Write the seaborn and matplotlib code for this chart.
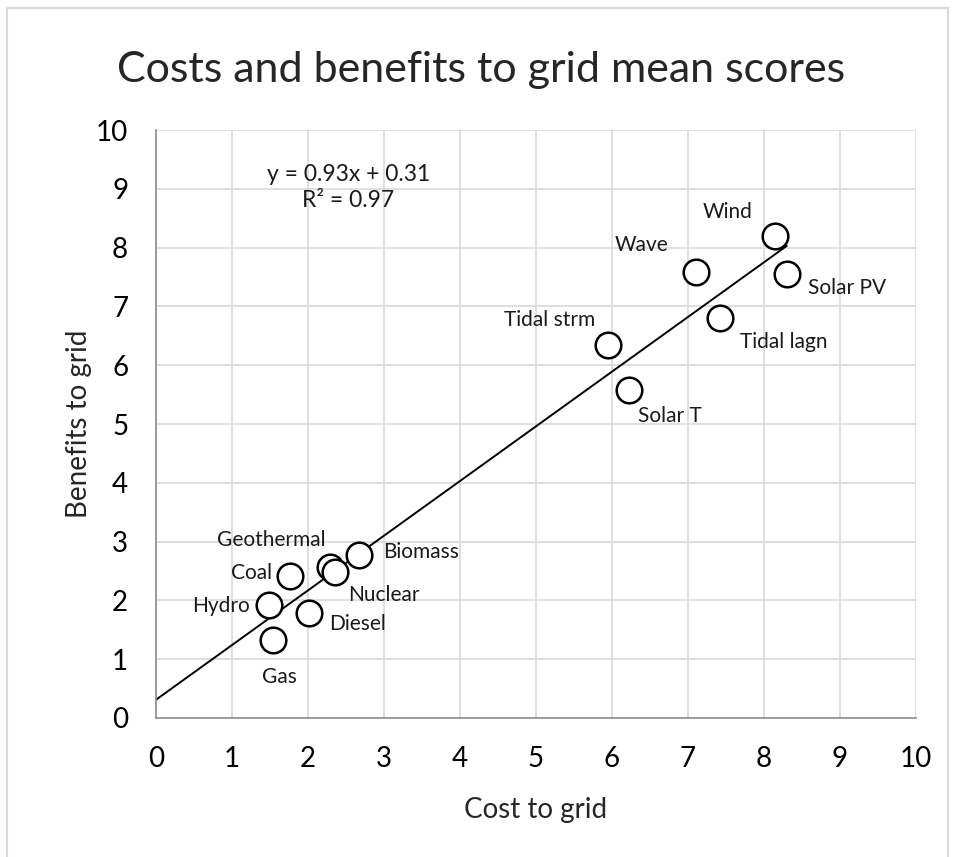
import numpy as np
import pandas as pd
import matplotlib
matplotlib.use('Agg')
import matplotlib.pyplot as plt
from matplotlib.patches import Rectangle
import seaborn as sns

# data
sources = ['Wind', 'Wave', 'Solar PV', 'Tidal lagn', 'Tidal strm', 'Solar T',
           'Biomass', 'Geothermal', 'Nuclear', 'Coal', 'Hydro', 'Diesel', 'Gas']
cost = [8.14, 7.11, 8.30, 7.42, 5.95, 6.22, 2.67, 2.29, 2.35, 1.76, 1.49, 2.01, 1.54]
benefit = [8.20, 7.59, 7.55, 6.80, 6.34, 5.58, 2.77, 2.57, 2.48, 2.41, 1.92, 1.79, 1.33]

# label offsets in pixels (dx, dy, ha)
label_pos = {
    'Wind': (-47, 24, 'center'), 'Wave': (-55, 27, 'center'),
    'Solar PV': (21, -14, 'left'), 'Tidal lagn': (20, -24, 'left'),
    'Tidal strm': (-13, 25, 'right'), 'Solar T': (9, -26, 'left'),
    'Biomass': (24, 3, 'left'), 'Geothermal': (-4, 27, 'right'),
    'Nuclear': (14, -23, 'left'), 'Coal': (-18, 3, 'right'),
    'Hydro': (-19, -1, 'right'), 'Diesel': (20, -11, 'left'),
    'Gas': (6, -37, 'center'),
}

slope, intercept, r2 = 0.93, 0.31, 0.97
fit_range = [0, 8.3]

df = pd.DataFrame({'source': sources, 'cost': cost, 'benefit': benefit})

sns.set_theme(style='white')
plt.rcParams['font.family'] = ['Lato', 'DejaVu Sans']

fig = plt.figure(figsize=(9.58, 8.57), dpi=100)
ax = fig.add_axes([0.1628, 0.1622, 0.7933, 0.6861])

fig.patches.append(Rectangle((7 / 958, -0.1), 941 / 958, 1.1 - 8 / 857,
                             transform=fig.transFigure, fill=False,
                             edgecolor='#d9d9d9', linewidth=1.5))

ax.grid(True, color='#d9d9d9', linewidth=1.2)
ax.set_axisbelow(True)

xf = np.array(fit_range)
ax.plot(xf, slope * xf + intercept, color='black', linewidth=1.4, zorder=2)

sns.scatterplot(data=df, x='cost', y='benefit', ax=ax, s=340, marker='o',
                facecolor='white', edgecolor='black', linewidth=1.8, zorder=3)

for name, x, y in zip(sources, cost, benefit):
    dx, dy, ha = label_pos[name]
    ax.annotate(name, (x, y), xytext=(dx, dy), textcoords='offset pixels',
                ha=ha, va='center', fontsize=15, color='#1a1a1a')

ax.text(2.53, 9.02, f'y = {slope}x + {intercept}\nR² = {r2}', ha='center',
        va='center', fontsize=16.5, linespacing=1.3, color='#1a1a1a')

ax.set_xlim(0, 10)
ax.set_ylim(0, 10)
ax.set_xticks(range(0, 11))
ax.set_yticks(range(0, 11))
for s in ['top', 'right']:
    ax.spines[s].set_visible(False)
for s in ['left', 'bottom']:
    ax.spines[s].set_color('#8c8c8c')
    ax.spines[s].set_linewidth(1.2)
ax.tick_params(axis='both', direction='out', length=7, width=1.2,
               color='#8c8c8c', labelsize=20, labelcolor='black')
ax.tick_params(axis='y', pad=13)
ax.tick_params(axis='x', pad=13)

ax.set_xlabel('Cost to grid', fontsize=20, labelpad=18)
ax.set_ylabel('Benefits to grid', fontsize=20, labelpad=3)
fig.text(0.502, 0.918, 'Costs and benefits to grid mean scores',
         ha='center', va='center', fontsize=31)

fig.savefig('out.png', dpi=100)
